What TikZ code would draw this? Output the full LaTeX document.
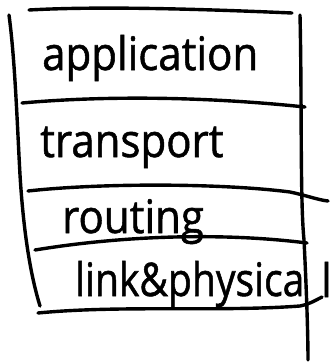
\documentclass[tikz,border=0pt]{standalone}
\usepackage{fontspec}
\setmainfont{Open Sans}
\newfontfamily\handfont{Open Sans}[FakeBold=1.2]
\begin{document}
\begin{tikzpicture}[x=1pt,y=-1pt,
  stroke/.style={line width=3.4pt, line cap=round, line join=round},
  hand/.style={font=\handfont\fontsize{42}{42}\selectfont, inner sep=0pt, anchor=base west, yscale=1.1}]
\useasboundingbox (0,0) rectangle (333,364);
% frame lines
\draw[stroke] (29,10) .. controls (100,6) and (200,9) .. (292,13);
\draw[stroke] (9,15) .. controls (15,60) and (17,120) .. (20,175) .. controls (24,240) and (32,280) .. (40,306);
\draw[stroke] (300,15) .. controls (302,100) and (300,200) .. (304,240) .. controls (307,300) and (308,340) .. (308,360);
\draw[stroke] (22,103) .. controls (100,96) and (200,96) .. (305,107);
\draw[stroke] (28,191) .. controls (100,183) and (220,183) .. (290,192) .. controls (305,195) and (318,200) .. (328,201);
\draw[stroke] (35,250) .. controls (120,236) and (220,232) .. (307,243);
\draw[stroke] (38,313) .. controls (120,305) and (220,312) .. (300,306) .. controls (310,304) and (316,300) .. (322,297);
% labels
\node[hand] (app) at (42,70) {application};
\node[hand] (tra) at (40,157) {transport};
\node[hand] (rou) at (62,233) {routing};
\node[hand, xscale=0.93] (lin) at (75,296) {link\&physica};
\node[hand] (l) at (321,297) {l};
\end{tikzpicture}
\end{document}
